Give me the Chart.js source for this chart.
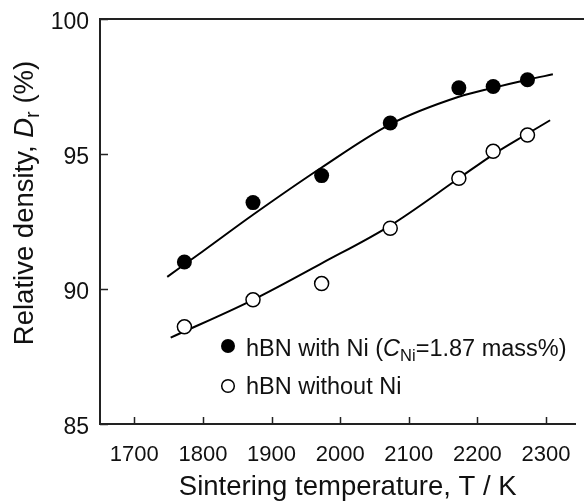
<!DOCTYPE html>
<html>
<head>
<meta charset="utf-8">
<script src="https://cdn.jsdelivr.net/npm/chart.js@4/dist/chart.umd.min.js"></script>
<style>
  html, body { margin: 0; padding: 0; background: #fff; }
  #wrap { width: 584px; height: 504px; }
</style>
</head>
<body>
<div id="wrap"><canvas id="c" width="584" height="504"></canvas></div>
<script>
// Sintering temperature (K) and measured relative density (%)
const temperatures = [1773, 1873, 1973, 2073, 2173, 2223, 2273];
const densityWithNi = [91.0, 93.2, 94.2, 96.15, 97.45, 97.5, 97.75];
const densityWithoutNi = [88.6, 89.6, 90.2, 92.25, 94.1, 95.1, 95.7];

// Fitted trend curves
const fitWithNiT = [1748, 1800, 1873, 1973, 2073, 2173, 2223, 2273, 2310];
const fitWithNiD = [90.45, 91.4, 92.75, 94.5, 96.1, 97.12, 97.45, 97.75, 97.95];
const fitWithoutNiT = [1753, 1873, 1973, 2073, 2173, 2223, 2273, 2306];
const fitWithoutNiD = [88.2, 89.6, 90.95, 92.35, 94.1, 94.98, 95.75, 96.25];

// Axis ticks
const xTicks = [1700, 1800, 1900, 2000, 2100, 2200, 2300];
const yTicks = [85, 90, 95, 100];

const FONT = '"Liberation Sans", Arial, Helvetica, sans-serif';
const INK = '#111';

const toXY = (xs, ys) => xs.map((v, i) => ({ x: v, y: ys[i] }));

// Draws a run of text pieces (normal / italic / subscript) starting at x
function drawRuns(ctx, runs, x, y) {
  let cx = x;
  runs.forEach(r => {
    ctx.font = (r.italic ? 'italic ' : '') + r.size + 'px ' + FONT;
    ctx.fillText(r.text, cx, y + (r.dy || 0));
    cx += ctx.measureText(r.text).width;
  });
}
function runsWidth(ctx, runs) {
  let w = 0;
  runs.forEach(r => {
    ctx.font = (r.italic ? 'italic ' : '') + r.size + 'px ' + FONT;
    w += ctx.measureText(r.text).width;
  });
  return w;
}

const decorations = {
  id: 'decorations',
  afterDraw(chart) {
    const { ctx, chartArea: a, scales: { x, y } } = chart;
    ctx.save();

    // top frame line
    ctx.strokeStyle = '#222';
    ctx.lineWidth = 2;
    ctx.beginPath();
    ctx.moveTo(a.left - 1, a.top);
    ctx.lineTo(chart.width, a.top);
    ctx.stroke();

    // inward tick marks
    ctx.lineWidth = 1.5;
    ctx.beginPath();
    x.ticks.forEach(t => {
      const px = Math.round(x.getPixelForValue(t.value)) + 0.5;
      ctx.moveTo(px, a.bottom);
      ctx.lineTo(px, a.bottom - 7);
    });
    y.ticks.forEach(t => {
      const py = Math.round(y.getPixelForValue(t.value)) + 0.5;
      ctx.moveTo(a.left, py);
      ctx.lineTo(a.left + 8, py);
    });
    ctx.stroke();

    // legend
    const ds = chart.data.datasets;
    const lx = a.left + 128;
    const ly1 = a.top + 327, ly2 = a.top + 367;
    ctx.fillStyle = '#000';
    ctx.beginPath();
    ctx.arc(lx, ly1, 7, 0, Math.PI * 2);
    ctx.fill();
    ctx.strokeStyle = '#000';
    ctx.lineWidth = 1.5;
    ctx.beginPath();
    ctx.arc(lx, ly2, 6.3, 0, Math.PI * 2);
    ctx.fillStyle = '#fff';
    ctx.fill();
    ctx.stroke();

    ctx.fillStyle = INK;
    ctx.textBaseline = 'alphabetic';
    ctx.textAlign = 'left';
    drawRuns(ctx, [
      { text: 'hBN with Ni (', size: 23.5 },
      { text: 'C', size: 23.5, italic: true },
      { text: 'Ni', size: 16.5, dy: 5 },
      { text: '=1.87 mass%)', size: 23.5 }
    ], lx + 18, ly1 + 10);
    drawRuns(ctx, [{ text: ds[1].label, size: 23.5 }], lx + 18, ly2 + 8);

    // x-axis title
    const xt = [{ text: 'Sintering temperature, T / K', size: 27.5 }];
    const xw = runsWidth(ctx, xt);
    drawRuns(ctx, xt, (a.left + a.right) / 2 + 10 - xw / 2, 495);

    // y-axis title (rotated)
    const yt = [
      { text: 'Relative density, ', size: 27.5 },
      { text: 'D', size: 27.5, italic: true },
      { text: 'r', size: 20, dy: 6 },
      { text: ' (%)', size: 27.5 }
    ];
    const yw = runsWidth(ctx, yt);
    ctx.translate(33, 203);
    ctx.rotate(-Math.PI / 2);
    drawRuns(ctx, yt, -yw / 2, 0);

    ctx.restore();
  }
};

new Chart(document.getElementById('c'), {
  type: 'scatter',
  data: {
    datasets: [
      {
        label: 'hBN with Ni (C_Ni=1.87 mass%)',
        data: toXY(temperatures, densityWithNi),
        pointRadius: 7.5,
        pointBackgroundColor: '#000',
        pointBorderColor: '#000',
        pointBorderWidth: 0,
        showLine: false
      },
      {
        label: 'hBN without Ni',
        data: toXY(temperatures, densityWithoutNi),
        pointRadius: 7,
        pointBackgroundColor: '#fff',
        pointBorderColor: '#000',
        pointBorderWidth: 1.5,
        showLine: false
      },
      {
        label: 'fit with Ni',
        data: toXY(fitWithNiT, fitWithNiD),
        showLine: true,
        pointRadius: 0,
        borderColor: '#000',
        borderWidth: 2,
        cubicInterpolationMode: 'monotone'
      },
      {
        label: 'fit without Ni',
        data: toXY(fitWithoutNiT, fitWithoutNiD),
        showLine: true,
        pointRadius: 0,
        borderColor: '#000',
        borderWidth: 2,
        cubicInterpolationMode: 'monotone'
      }
    ]
  },
  options: {
    responsive: false,
    animation: false,
    devicePixelRatio: 1,
    layout: { padding: { top: 19, left: 0, right: 0, bottom: 0 } },
    plugins: { legend: { display: false }, tooltip: { enabled: false } },
    scales: {
      x: {
        type: 'linear',
        min: 1650,
        max: 2343,
        afterBuildTicks: s => { s.ticks = xTicks.map(v => ({ value: v })); },
        afterFit: s => { s.height = 80; },
        grid: { display: false, drawTicks: true, tickLength: 16 },
        border: { display: true, color: '#222', width: 2 },
        ticks: {
          color: INK, padding: 2, maxRotation: 0,
          font: { family: FONT, size: 22 },
          callback: v => String(v)
        }
      },
      y: {
        type: 'linear',
        min: 85,
        max: 100,
        afterBuildTicks: s => { s.ticks = yTicks.map(v => ({ value: v })); },
        afterFit: s => { s.width = 100; },
        grid: { display: false, drawTicks: true, tickLength: 9 },
        border: { display: true, color: '#222', width: 2 },
        ticks: {
          color: INK, padding: 2, labelOffset: 4,
          font: { family: FONT, size: 23 },
          callback: v => String(v)
        }
      }
    }
  },
  plugins: [decorations]
});
</script>
</body>
</html>
